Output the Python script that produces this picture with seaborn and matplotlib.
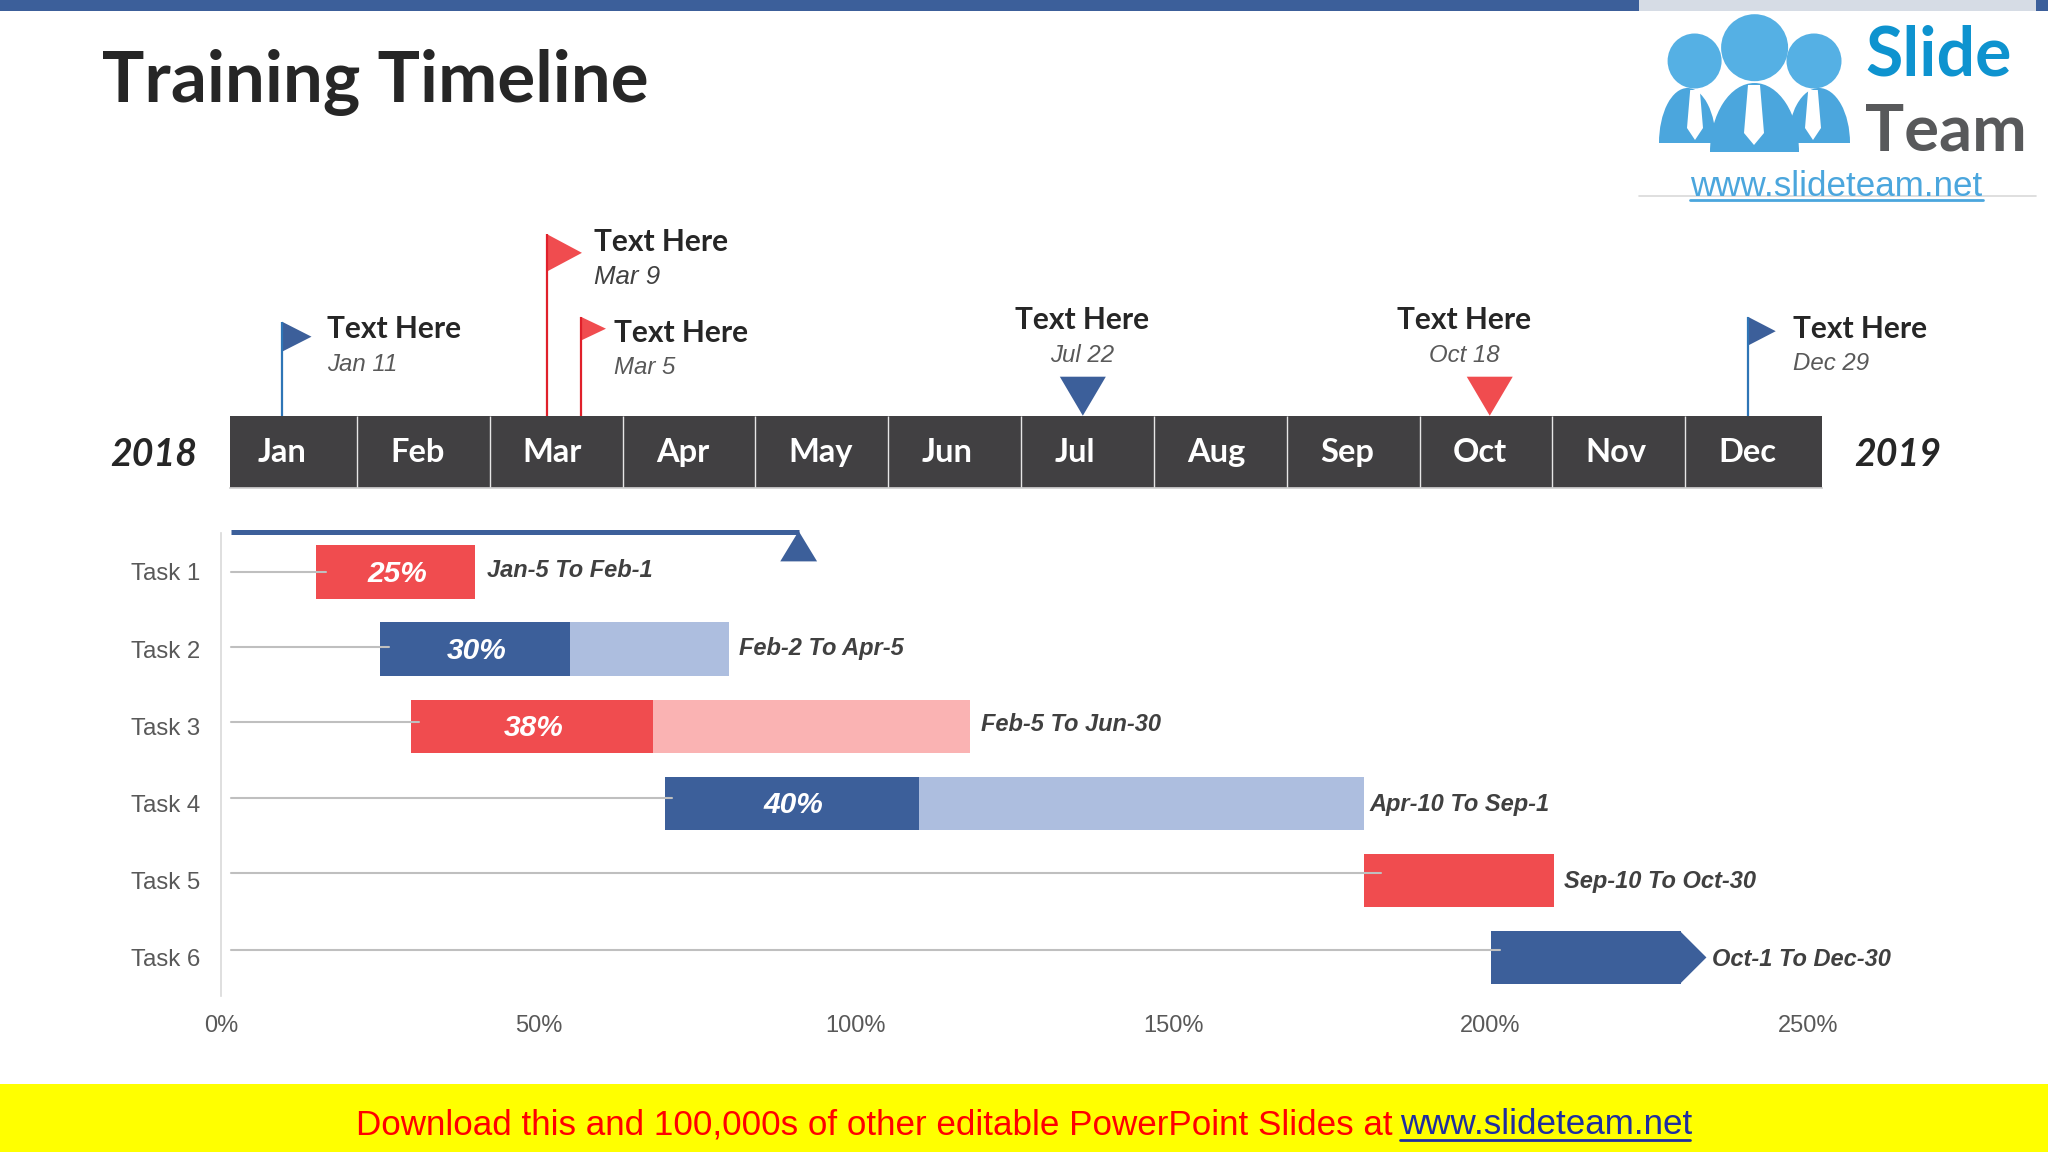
import matplotlib
matplotlib.use("Agg")
import pandas as pd
import seaborn as sns
import matplotlib.pyplot as plt
from matplotlib.patches import Ellipse, Rectangle

# Dati
tasks = ["Task 1", "Task 2", "Task 3", "Task 4", "Task 5", "Task 6"]
start = [15, 25, 30, 70, 180, 200]
done = [25, 30, 38, 40, 30, 30]
remaining = [0, 25, 50, 70, 0, 0]
tip = [0, 0, 0, 0, 0, 4]
pct_labels = ["25%", "30%", "38%", "40%", "", ""]
ranges = ["Jan-5 To Feb-1", "Feb-2 To Apr-5", "Feb-5 To Jun-30",
          "Apr-10 To Sep-1", "Sep-10 To Oct-30", "Oct-1 To Dec-30"]
leader_end = [16.5, 26.4, 31.2, 71, 182.8, 201.5]
progress_end = 91

months = ["Jan", "Feb", "Mar", "Apr", "May", "Jun", "Jul", "Aug", "Sep", "Oct", "Nov", "Dec"]
ms_dates = ["Jan 11", "Mar 9", "Mar 5", "Jul 22", "Oct 18", "Dec 29"]
ms_pos = [-0.063, 1.929, 2.185, 5.965, 9.028, 10.97]

BLUE = "#3C5F9A"
LIGHT_BLUE = "#ADBEDF"
RED = "#F04C4F"
LIGHT_RED = "#FAB3B3"
DARK = "#414042"
W, H = 2048, 1152

sns.set_theme(style="white")
plt.rcParams["font.family"] = ["Liberation Sans", "DejaVu Sans"]
fig = plt.figure(figsize=(W / 100, H / 100), dpi=100, facecolor="white")


def px_axes(left, top, right, bottom, **kw):
    return fig.add_axes([left / W, 1 - bottom / H, (right - left) / W, (bottom - top) / H], **kw)


# Sfondo della slide, in pixel
bg = px_axes(0, 0, W, H)
bg.set_xlim(0, W)
bg.set_ylim(H, 0)
bg.axis("off")
bg.add_patch(Rectangle((0, 0), 1639, 10.7, color=BLUE, lw=0))
bg.add_patch(Rectangle((1639, 0), 397, 10.7, color="#D6DCE5", lw=0))
bg.add_patch(Rectangle((2036, 0), 12, 10.7, color=BLUE, lw=0))
bg.add_patch(Rectangle((0, 1084), W, 68, color="#FFFF00", lw=0))
bg.text(102, 82, "Training Timeline", family="Lato", weight="bold", fontsize=51,
        color="#262626", va="center")
bg.text(1393, 1125, "Download this and 100,000s of other editable PowerPoint Slides at",
        fontsize=25.2, color="#FF0000", ha="right", va="center")
bg.text(1400, 1125, "www.slideteam.net", fontsize=25.2, color="#1F2E9F", va="center")
bg.plot([1400, 1690], [1140, 1140], color="#1F2E9F", lw=2)

# Logo
bg.plot([1639, 2036], [195.7, 195.7], color="#D9D9D9", lw=1.2)
LOGO = "#4BA6DD"
for cx, cy, ew, eh in [(1694.6, 61, 54, 55), (1814, 61, 55, 55), (1754.6, 47.7, 67, 67)]:
    bg.add_patch(Ellipse((cx, cy), ew, eh, color="#55B0E4", lw=0))
for x0, x1, y0, y1 in [(1659, 1716, 88, 143), (1788, 1850, 88, 143), (1710, 1799, 83, 152)]:
    body = Ellipse(((x0 + x1) / 2, y1), x1 - x0, 2 * (y1 - y0), color=LOGO, lw=0, ec="white")
    bg.add_patch(body)
    body.set_clip_path(Rectangle((x0, y0), x1 - x0, y1 - y0, transform=bg.transData))
for cx, y0, y1, hw in [(1695, 90, 140, 8), (1813, 90, 140, 8), (1754, 85, 145, 10)]:
    bg.fill([cx - hw * .6, cx + hw * .6, cx + hw, cx, cx - hw],
            [y0, y0, y1 - 12, y1, y1 - 12], color="white", lw=0)
bg.text(1865, 56, "Slide", family="Lato", weight="bold", fontsize=49, color="#0E93CF", va="center")
bg.text(1865, 132, "Team", family="Lato", weight="bold", fontsize=47, color="#58595B", va="center")
bg.text(1690, 187, "www.slideteam.net", fontsize=25.2, color=LOGO, va="center")
bg.plot([1690, 1983], [200, 200], color=LOGO, lw=2)

# Anni
bg.text(110, 454, "2018", family="Lato", weight="bold", style="italic", fontsize=27,
        color="#262626", va="center")
bg.text(1854.5, 454, "2019", family="Lato", weight="bold", style="italic", fontsize=27,
        color="#262626", va="center")

# Striscia dei mesi
strip = px_axes(230, 415.7, 1822, 488)
strip.set_facecolor(DARK)
sns.barplot(x=months, y=[1] * 12, order=months, color=DARK, saturation=1, width=1,
            linewidth=0, ax=strip)
strip.set_xlim(-0.4545, 11.529)
strip.set_ylim(0, 1)
strip.vlines([i + 0.5 for i in range(11)], 0, 1, color="#E6E6E6", lw=1)
strip.set(xlabel="", ylabel="", xticks=[], yticks=[])
sns.despine(ax=strip, left=True, right=True, top=True)
strip.spines["bottom"].set_color("#D0D0D0")
for i, m in enumerate(months):
    strip.text(i - 0.25, 0.49, m, family="Lato", weight="bold", fontsize=23.5, color="white", va="center")

# Bandierine sopra la striscia
flags = px_axes(230, 200, 1822, 415.7)
flags.set_xlim(strip.get_xlim())
flags.set_ylim(415.7, 200)
flags.axis("off")
px = 1 / 132.85

# indice, cima, altezza bandiera, larghezza, colore asta, colore
flag_style = [(0, 321.7, 30, 29.5, "#2E75B6", BLUE), (1, 234, 37.7, 35.3, "#E0202A", RED),
              (2, 316.7, 24, 25.3, "#E0202A", RED), (5, 316.7, 29, 28, "#2E75B6", BLUE)]
for idx, top, h, w, pole, col in flag_style:
    x = ms_pos[idx]
    flags.vlines(x, top, 415.7, color=pole, lw=1.6)
    flags.fill([x, x + w * px, x], [top, top + h / 2, top + h], color=col, lw=0)
for idx, col in [(3, BLUE), (4, RED)]:
    x = ms_pos[idx]
    flags.fill([x - 23 * px, x + 23 * px, x], [376.7, 376.7, 415.7], color=col, lw=0)

label_kw = dict(family="Lato", weight="bold", fontsize=21.5, color="#262626", va="center")
date_kw = dict(style="italic", fontsize=17.3, color="#595959", va="center")
# x testo, y testo, y data, allineamento
ms_text = [(326.6, 328.5, 364.5, "left"), (594, 242, 276.5, "left"), (613.5, 332.5, 368, "left"),
           (1082, 320, 355.5, "center"), (1464, 320, 355.5, "center"), (1793, 328.5, 364, "left")]
for d, (x, y1, y2, ha) in zip(ms_dates, ms_text):
    bg.text(x, y1, "Text Here", ha=ha, **label_kw)
    kw = dict(date_kw)
    if d == "Mar 9":
        kw.update(fontsize=18.6, color="#404040")
    bg.text(x, y2, d, ha=ha, **kw)

# Gantt
df = pd.DataFrame({"task": tasks, "start": start, "done": done, "remaining": remaining})
ax = px_axes(221, 533.4, 1808, 996)
ax.patch.set_alpha(0)
for i, row in df.iterrows():
    dark, light = (RED, LIGHT_RED) if i % 2 == 0 else (BLUE, LIGHT_BLUE)
    one = df.iloc[[i]]
    sns.barplot(data=one, y="task", x="done", order=tasks, left=row["start"], color=dark,
                saturation=1, width=0.69, linewidth=0, errorbar=None, ax=ax)
    if pct_labels[i]:
        ax.annotate(pct_labels[i], xy=(row["start"] + row["done"] / 2, i), xytext=(1.5, -2),
                    textcoords="offset pixels", ha="center", va="center", color="white",
                    fontsize=21.5, weight="bold", style="italic", zorder=7)
    if row["remaining"]:
        sns.barplot(data=one, y="task", x="remaining", order=tasks, left=row["start"] + row["done"],
                    color=light, saturation=1, width=0.69, linewidth=0, errorbar=None, ax=ax)
    if tip[i]:
        end = row["start"] + row["done"]
        ax.fill([end - 0.2, end + tip[i], end - 0.2], [i - 0.345, i, i + 0.345], color=dark, lw=0)

# linee guida grigie e testo delle date
leader_dy = [0, -0.03, -0.05, -0.07, -0.1, -0.1]
text_off = [(12, 1.5), (10, 0.5), (11, 1.5), (6, -1.5), (10, -1.5), (6, -2)]
for i, row in df.iterrows():
    ax.plot([1.5, leader_end[i]], [i + leader_dy[i]] * 2, color="#BFBFBF", lw=1.5, zorder=5)
    end = row["start"] + row["done"] + row["remaining"] + tip[i]
    ax.annotate(ranges[i], xy=(end, i), xytext=text_off[i], textcoords="offset pixels",
                fontsize=17, weight="bold", style="italic", color="#404040", va="center",
                annotation_clip=False)

# barra di avanzamento
ax.plot([1.5, progress_end], [-0.522, -0.522], color=BLUE, lw=3.6, clip_on=False,
        solid_capstyle="butt", zorder=6)
ax.fill([progress_end - 2.9, progress_end + 2.9, progress_end], [-0.137, -0.137, -0.53],
        color=BLUE, lw=0, clip_on=False, zorder=6)

ax.set_xlim(0, 250)
ax.set_ylim(5.5, -0.5)
ax.set_xticks([0, 50, 100, 150, 200, 250])
ax.set_xticklabels(["0%", "50%", "100%", "150%", "200%", "250%"])
ax.set(xlabel="", ylabel="")
ax.tick_params(axis="x", length=0, pad=14, labelsize=17, labelcolor="#595959")
ax.tick_params(axis="y", length=0, pad=15, labelsize=17.3, labelcolor="#595959")
sns.despine(ax=ax, top=True, right=True, bottom=True)
ax.spines["left"].set_color("#D9D9D9")
ax.spines["left"].set_linewidth(1.2)

fig.savefig("out.png", dpi=100)
